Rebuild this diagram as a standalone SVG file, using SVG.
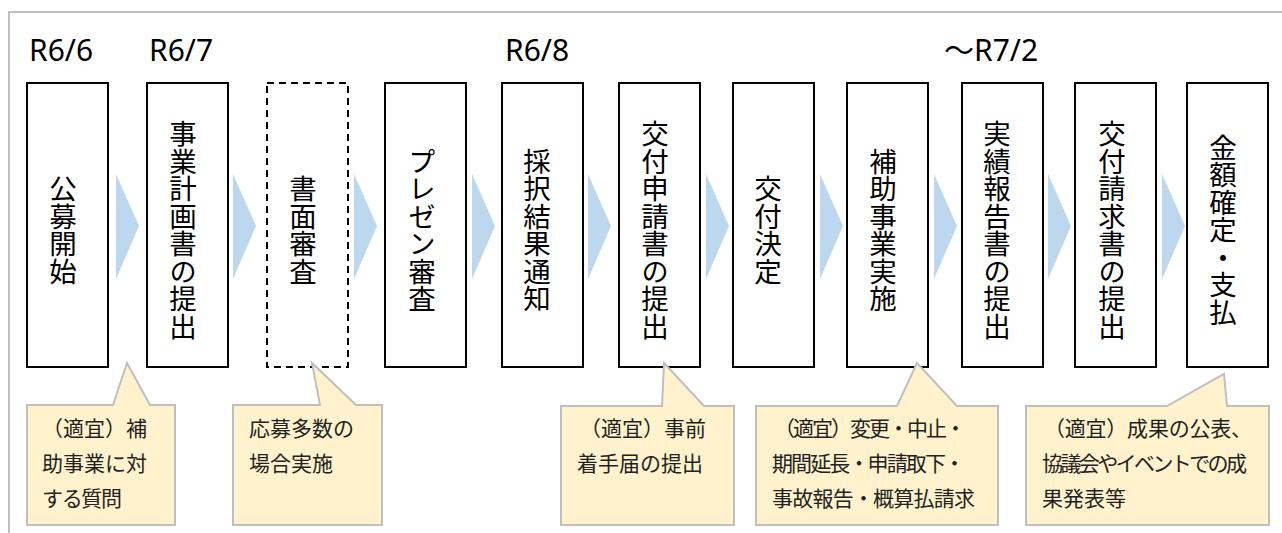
<svg xmlns="http://www.w3.org/2000/svg" width="1282" height="533" viewBox="0 0 1282 533">
<style>
.frame{fill:none;stroke:#C0C0C0;stroke-width:2}
.box{fill:#FFFFFF;stroke:#000000;stroke-width:2}
.dash{stroke-dasharray:7 5}
.vt{font-family:"Noto Sans CJK JP","Noto Sans CJK SC",sans-serif;font-size:27.5px;fill:#000;writing-mode:vertical-rl;text-anchor:middle}
.date{font-family:"Noto Sans","Open Sans","Noto Sans CJK JP",sans-serif;font-size:30px;fill:#000}
.arrow{fill:#BDD7EE}
.call{fill:#FFF2CC;stroke:#BFBFBF;stroke-width:2}
.ct{font-family:"Noto Sans CJK JP","Noto Sans CJK SC",sans-serif;font-size:21px;fill:#222}
</style>
<defs>
<polygon id="chev" points="0,174 23,226 0,279"/>
</defs>
<rect class="frame" x="9" y="12" width="1300" height="600"/>

<g id="dates">
<text class="date" x="29" y="61">R6/6</text>
<text class="date" x="149" y="61">R6/7</text>
<text class="date" x="505" y="61">R6/8</text>
<text class="date" x="944" y="61">～R7/2</text>
</g>

<g id="connectors">
<use href="#chev" class="arrow" x="116"/>
<use href="#chev" class="arrow" x="233"/>
<use href="#chev" class="arrow" x="354"/>
<use href="#chev" class="arrow" x="472"/>
<use href="#chev" class="arrow" x="588"/>
<use href="#chev" class="arrow" x="706"/>
<use href="#chev" class="arrow" x="820"/>
<use href="#chev" class="arrow" x="934"/>
<use href="#chev" class="arrow" x="1048"/>
<use href="#chev" class="arrow" x="1162"/>
</g>

<g id="n1"><rect class="box" x="27" y="83" width="81" height="284"/><text class="vt" x="63" y="230">公募開始</text></g>
<g id="n2"><rect class="box" x="147" y="83" width="81" height="284"/><text class="vt" x="183" y="230">事業計画書の提出</text></g>
<g id="n3"><rect class="box dash" x="267" y="83" width="81" height="284"/><text class="vt" x="303" y="230">書面審査</text></g>
<g id="n4"><rect class="box" x="385" y="83" width="81" height="284"/><text class="vt" x="422" y="230">プレゼン審査</text></g>
<g id="n5"><rect class="box" x="502" y="83" width="81" height="284"/><text class="vt" x="537" y="230">採択結果通知</text></g>
<g id="n6"><rect class="box" x="619" y="83" width="81" height="284"/><text class="vt" x="655" y="230">交付申請書の提出</text></g>
<g id="n7"><rect class="box" x="733" y="83" width="81" height="284"/><text class="vt" x="768" y="230">交付決定</text></g>
<g id="n8"><rect class="box" x="847" y="83" width="81" height="284"/><text class="vt" x="883" y="230">補助事業実施</text></g>
<g id="n9"><rect class="box" x="962" y="83" width="81" height="284"/><text class="vt" x="997" y="230">実績報告書の提出</text></g>
<g id="n10"><rect class="box" x="1075" y="83" width="81" height="284"/><text class="vt" x="1112" y="230">交付請求書の提出</text></g>
<g id="n11"><rect class="box" x="1187" y="83" width="81" height="284"/><text class="vt" x="1223" y="230">金額確定・支払</text></g>

<g id="c1">
<path class="call" d="M27,405 H113 L127,363 L150,405 H175 V525 H27 Z"/>
<text class="ct" x="42" y="436">（適宜）補</text>
<text class="ct" x="42" y="471">助事業に対</text>
<text class="ct" x="42" y="506" textLength="80">する質問</text>
</g>
<g id="c2">
<path class="call" d="M233,405 H320 L312,363 L356,405 H382 V525 H233 Z"/>
<text class="ct" x="249" y="436">応募多数の</text>
<text class="ct" x="249" y="471">場合実施</text>
</g>
<g id="c3">
<path class="call" d="M561,406 H662 L664,363 L704,406 H734 V525 H561 Z"/>
<text class="ct" x="580" y="436">（適宜）事前</text>
<text class="ct" x="577" y="471">着手届の提出</text>
</g>
<g id="c4">
<path class="call" d="M756,406 H897 L917,363 L957,406 H998 V525 H756 Z"/>
<text class="ct" x="774" y="436" textLength="192">（適宜）変更・中止・</text>
<text class="ct" x="772" y="471" textLength="193">期間延長・申請取下・</text>
<text class="ct" x="772" y="506" textLength="203">事故報告・概算払請求</text>
</g>
<g id="c5">
<path class="call" d="M1026,406 H1167 L1224,374 L1227,406 H1269 V525 H1026 Z"/>
<text class="ct" x="1044" y="436" textLength="208">（適宜）成果の公表、</text>
<text class="ct" x="1042" y="471" textLength="205">協議会やイベントでの成</text>
<text class="ct" x="1042" y="506">果発表等</text>
</g>
</svg>
